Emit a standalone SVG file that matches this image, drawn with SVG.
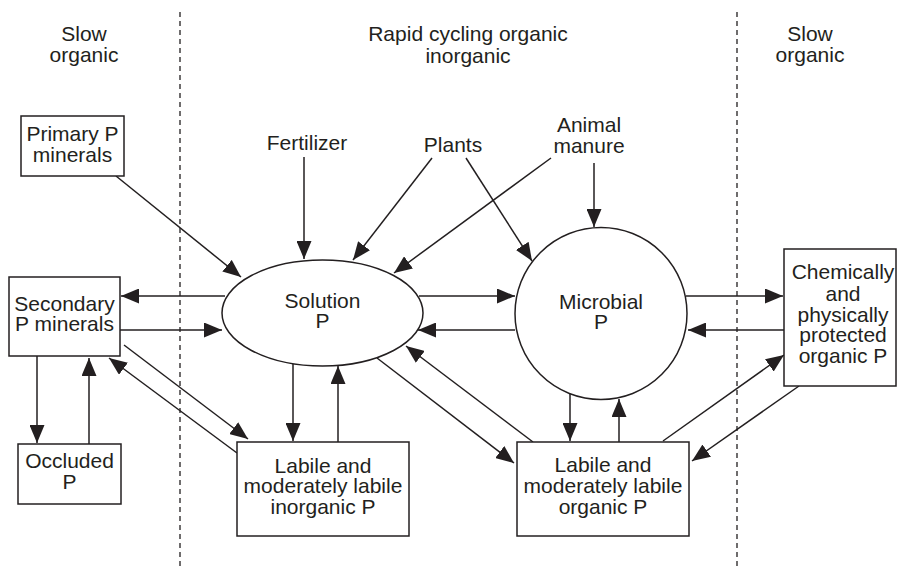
<svg xmlns="http://www.w3.org/2000/svg" width="897" height="569" viewBox="0 0 897 569">
  <style>
    text { font-family: "Liberation Sans", Arial, sans-serif; font-size: 21px; fill: #231f20; text-anchor: middle; }
    .box { fill: #ffffff; stroke: #231f20; stroke-width: 1.5; }
    .zone { stroke: #231f20; stroke-width: 1.3; stroke-dasharray: 5 4; fill: none; }
    .flow line { stroke: #231f20; stroke-width: 1.5; marker-end: url(#head); }
  </style>
  <defs>
    <marker id="head" markerUnits="userSpaceOnUse" markerWidth="18" markerHeight="15" refX="18" refY="7.5" orient="auto">
      <path d="M0,0 L18,7.5 L0,15 Z" fill="#231f20"/>
    </marker>
  </defs>
  <rect width="897" height="569" fill="#ffffff"/>

  <!-- zone boundaries -->
  <g id="zones">
    <line class="zone" x1="180" y1="12" x2="180" y2="569"/>
    <line class="zone" x1="737" y1="12" x2="737" y2="569"/>
    <text x="84" y="41">Slow</text>
    <text x="84" y="62">organic</text>
    <text x="468" y="41">Rapid cycling organic</text>
    <text x="468" y="63">inorganic</text>
    <text x="810" y="41">Slow</text>
    <text x="810" y="62">organic</text>
  </g>

  <!-- connectors -->
  <g id="connectors" class="flow">
    <line x1="116" y1="176" x2="241" y2="277"/>
    <line x1="225" y1="296" x2="121" y2="296"/>
    <line x1="120" y1="330" x2="222" y2="330"/>
    <line x1="304" y1="157" x2="304" y2="259"/>
    <line x1="432" y1="158" x2="353" y2="260"/>
    <line x1="551" y1="158" x2="394" y2="273"/>
    <line x1="466" y1="158" x2="532" y2="261"/>
    <line x1="594" y1="163" x2="594" y2="227"/>
    <line x1="419" y1="296" x2="515" y2="296"/>
    <line x1="515" y1="330" x2="418" y2="330"/>
    <line x1="377" y1="358" x2="514" y2="463"/>
    <line x1="533" y1="442" x2="406" y2="346"/>
    <line x1="293" y1="364" x2="293" y2="441"/>
    <line x1="338" y1="442" x2="338" y2="366"/>
    <line x1="124" y1="345" x2="248" y2="439"/>
    <line x1="237" y1="453" x2="109" y2="358"/>
    <line x1="37" y1="356" x2="37" y2="443"/>
    <line x1="89" y1="444" x2="89" y2="358"/>
    <line x1="570" y1="394" x2="570" y2="441"/>
    <line x1="619" y1="442" x2="619" y2="399"/>
    <line x1="686" y1="296" x2="783" y2="296"/>
    <line x1="784" y1="330" x2="688" y2="330"/>
    <line x1="663" y1="441" x2="784" y2="355"/>
    <line x1="799" y1="386" x2="692" y2="461"/>
  </g>

  <!-- sources -->
  <g id="fertilizer"><text x="307" y="150">Fertilizer</text></g>
  <g id="plants"><text x="453" y="152">Plants</text></g>
  <g id="animal-manure">
    <text x="589" y="132">Animal</text>
    <text x="589" y="153">manure</text>
  </g>

  <!-- pools -->
  <g id="primary-minerals">
    <rect class="box" x="21" y="116" width="103" height="60"/>
    <text x="72.5" y="141">Primary P</text>
    <text x="72.5" y="162">minerals</text>
  </g>
  <g id="secondary-minerals">
    <rect class="box" x="9" y="277" width="111" height="79"/>
    <text x="64.5" y="311">Secondary</text>
    <text x="64.5" y="331">P minerals</text>
  </g>
  <g id="occluded">
    <rect class="box" x="18" y="444" width="103" height="60"/>
    <text x="69.5" y="468">Occluded</text>
    <text x="69.5" y="489">P</text>
  </g>
  <g id="solution">
    <ellipse class="box" cx="322.5" cy="313" rx="100.5" ry="53"/>
    <text x="322.5" y="308">Solution</text>
    <text x="322.5" y="328">P</text>
  </g>
  <g id="microbial">
    <circle class="box" cx="601" cy="313.5" r="86"/>
    <text x="601" y="309">Microbial</text>
    <text x="601" y="329">P</text>
  </g>
  <g id="labile-inorganic">
    <rect class="box" x="237" y="442" width="172" height="94"/>
    <text x="323" y="473">Labile and</text>
    <text x="323" y="493">moderately labile</text>
    <text x="323" y="514">inorganic P</text>
  </g>
  <g id="labile-organic">
    <rect class="box" x="517" y="442" width="172" height="94"/>
    <text x="603" y="472">Labile and</text>
    <text x="603" y="493">moderately labile</text>
    <text x="603" y="514">organic P</text>
  </g>
  <g id="protected-organic">
    <rect class="box" x="784" y="249" width="112" height="137"/>
    <text x="843" y="279">Chemically</text>
    <text x="843" y="301">and</text>
    <text x="843" y="322">physically</text>
    <text x="843" y="342">protected</text>
    <text x="843" y="363">organic P</text>
  </g>
</svg>
